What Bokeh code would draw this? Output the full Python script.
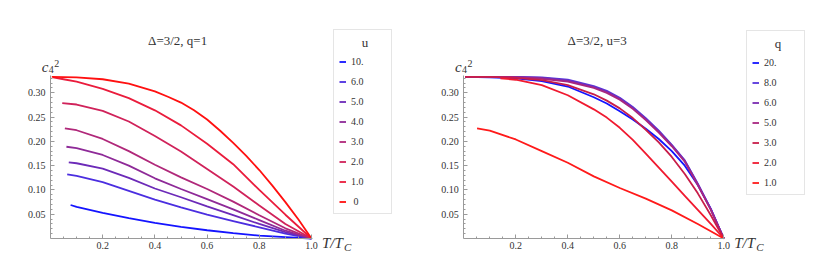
from bokeh.plotting import figure
from bokeh.layouts import row
from bokeh.models import (Range1d, FixedTicker, Label, Legend, LegendItem, LinearAxis)
from bokeh.embed import file_html
from bokeh.resources import INLINE

# ---------------- data: left panel (Delta=3/2, q=1), series by u ----------------
u_labels = ["10.", "6.0", "5.0", "4.0", "3.0", "2.0", "1.0", "\u20080"]
u_colors = ["#1414ff", "#4b2ee0", "#6c2ab8", "#8e2a98", "#b0287a", "#d0225a", "#ea1c3c", "#ff1010"]

u10_T = [0.077, 0.1, 0.2, 0.3, 0.4, 0.5, 0.6, 0.7, 0.8, 0.9, 1.0]
u10_c = [0.069, 0.065, 0.053, 0.042, 0.032, 0.024, 0.017, 0.011, 0.006, 0.003, 0.0]
u6_T = [0.064, 0.1, 0.2, 0.3, 0.4, 0.5, 0.6, 0.7, 0.8, 0.9, 1.0]
u6_c = [0.132, 0.129, 0.116, 0.098, 0.080, 0.064, 0.049, 0.036, 0.023, 0.010, 0.0]
u5_T = [0.07, 0.1, 0.2, 0.3, 0.4, 0.5, 0.6, 0.7, 0.8, 0.9, 1.0]
u5_c = [0.157, 0.155, 0.144, 0.125, 0.103, 0.085, 0.066, 0.048, 0.030, 0.013, 0.0]
u4_T = [0.061, 0.1, 0.2, 0.3, 0.4, 0.5, 0.6, 0.7, 0.8, 0.9, 1.0]
u4_c = [0.189, 0.186, 0.172, 0.150, 0.124, 0.102, 0.081, 0.060, 0.038, 0.016, 0.0]
u3_T = [0.055, 0.1, 0.2, 0.3, 0.4, 0.5, 0.6, 0.7, 0.8, 0.9, 1.0]
u3_c = [0.227, 0.223, 0.205, 0.180, 0.152, 0.126, 0.102, 0.076, 0.048, 0.021, 0.0]
u2_T = [0.045, 0.1, 0.2, 0.3, 0.4, 0.5, 0.6, 0.7, 0.8, 0.9, 1.0]
u2_c = [0.279, 0.276, 0.263, 0.241, 0.211, 0.179, 0.143, 0.107, 0.068, 0.030, 0.0]
u1_T = [0.01, 0.05, 0.1, 0.2, 0.3, 0.4, 0.5, 0.6, 0.7, 0.8, 0.9, 1.0]
u1_c = [0.332, 0.328, 0.323, 0.308, 0.289, 0.264, 0.233, 0.195, 0.153, 0.100, 0.049, 0.0]
u0_T = [0.005, 0.1, 0.2, 0.3, 0.4, 0.45, 0.5, 0.55, 0.6, 0.65, 0.7, 0.75, 0.8, 0.85, 0.9, 0.95, 1.0]
u0_c = [0.333, 0.332, 0.328, 0.319, 0.303, 0.292, 0.280, 0.264, 0.245, 0.222, 0.197, 0.170, 0.141, 0.109, 0.075, 0.039, 0.0]

left_T = [u10_T, u6_T, u5_T, u4_T, u3_T, u2_T, u1_T, u0_T]
left_c = [u10_c, u6_c, u5_c, u4_c, u3_c, u2_c, u1_c, u0_c]

# ---------------- data: right panel (Delta=3/2, u=3), series by q ----------------
q_labels = ["20.", "8.0", "6.0", "5.0", "3.0", "2.0", "1.0"]
q_colors = ["#1414ff", "#5634dc", "#7a2cb0", "#a82680", "#c81e4a", "#f01a30", "#ff1a1a"]

qT_full = [0.005, 0.1, 0.2, 0.3, 0.4, 0.5, 0.55, 0.6, 0.65, 0.7, 0.75, 0.8, 0.85, 0.9, 0.95, 1.0]
q20_T = qT_full
q20_c = [0.333, 0.332, 0.330, 0.324, 0.313, 0.291, 0.278, 0.262, 0.245, 0.226, 0.205, 0.180, 0.150, 0.110, 0.061, 0.0]
q8_T = qT_full
q8_c = [0.333, 0.333, 0.333, 0.332, 0.327, 0.314, 0.304, 0.290, 0.271, 0.248, 0.222, 0.193, 0.161, 0.113, 0.061, 0.0]
q6_T = qT_full
q6_c = [0.333, 0.333, 0.333, 0.331, 0.325, 0.312, 0.302, 0.288, 0.269, 0.246, 0.220, 0.192, 0.160, 0.112, 0.060, 0.0]
q5_T = qT_full
q5_c = [0.333, 0.333, 0.332, 0.329, 0.323, 0.310, 0.300, 0.286, 0.267, 0.244, 0.218, 0.190, 0.158, 0.110, 0.059, 0.0]
q3_T = qT_full
q3_c = [0.333, 0.333, 0.331, 0.326, 0.316, 0.297, 0.284, 0.268, 0.248, 0.224, 0.198, 0.168, 0.133, 0.093, 0.048, 0.0]
q2_T = [0.141, 0.2, 0.3, 0.4, 0.5, 0.55, 0.6, 0.65, 0.7, 0.75, 0.8, 0.85, 0.9, 0.95, 1.0]
q2_c = [0.330, 0.327, 0.316, 0.295, 0.266, 0.249, 0.228, 0.203, 0.175, 0.146, 0.117, 0.088, 0.059, 0.030, 0.0]
q1_T = [0.051, 0.1, 0.2, 0.3, 0.4, 0.5, 0.6, 0.7, 0.8, 0.9, 1.0]
q1_c = [0.227, 0.222, 0.204, 0.180, 0.156, 0.128, 0.104, 0.082, 0.058, 0.030, 0.0]

right_T = [q20_T, q8_T, q6_T, q5_T, q3_T, q2_T, q1_T]
right_c = [q20_c, q8_c, q6_c, q5_c, q3_c, q2_c, q1_c]

# ticks
x_ticks = [0.2, 0.4, 0.6, 0.8, 1.0]
x_tick_labels = ["0.2", "0.4", "0.6", "0.8", "1.0"]
x_minor = [0.05, 0.1, 0.15, 0.25, 0.3, 0.35, 0.45, 0.5, 0.55, 0.65, 0.7, 0.75, 0.85, 0.9, 0.95]
y_ticks = [0.05, 0.10, 0.15, 0.20, 0.25, 0.30]
y_tick_labels = ["0.05", "0.10", "0.15", "0.20", "0.25", "0.30"]
y_minor = [i / 100 for i in range(1, 34) if i % 5 != 0]

SERIF = "'Liberation Serif'"
AXIS_COL = "#9a9a9a"
TEXT_COL = "#333333"
FIG_H = 268
ORIGIN_Y = 238.0     # px from figure top where c = 0
Y_SCALE = 485.5      # px per unit of c
NB = "\u00a0"


def make_panel(width, origin_x, x_scale, Ts, cs, colors, labels,
               title, legend_title, title_x, legend_loc):
    xr = Range1d(-origin_x / x_scale, (width - origin_x) / x_scale)
    yr = Range1d(-(FIG_H - ORIGIN_Y) / Y_SCALE, ORIGIN_Y / Y_SCALE)
    p = figure(width=width, height=FIG_H, output_backend="svg", toolbar_location=None,
               x_range=xr, y_range=yr, min_border=0,
               x_axis_type=None, y_axis_type=None)
    p.outline_line_color = None
    p.xgrid.visible = False
    p.ygrid.visible = False

    xa = LinearAxis(ticker=FixedTicker(ticks=x_ticks, minor_ticks=x_minor),
                    fixed_location=0, bounds=(0, 1.004))
    xa.major_label_overrides = {t: s for t, s in zip(x_ticks, x_tick_labels)}
    ya = LinearAxis(ticker=FixedTicker(ticks=y_ticks, minor_ticks=y_minor),
                    fixed_location=0, bounds=(0, 0.336))
    ya.major_label_overrides = {t: s for t, s in zip(y_ticks, y_tick_labels)}
    for ax in (xa, ya):
        ax.axis_line_color = AXIS_COL
        ax.major_tick_line_color = AXIS_COL
        ax.minor_tick_line_color = AXIS_COL
        ax.major_tick_in = 4
        ax.major_tick_out = 0
        ax.minor_tick_in = 2
        ax.minor_tick_out = 0
        ax.major_label_text_font = SERIF
        ax.major_label_text_font_size = "10px"
        ax.major_label_text_color = TEXT_COL
    xa.major_label_standoff = 3
    ya.major_label_standoff = 5
    p.add_layout(xa, "below")
    p.add_layout(ya, "left")

    items = []
    for T, c, col, lab in zip(Ts, cs, colors, labels):
        r = p.line(T, c, line_color=col, line_width=1.8)
        items.append(LegendItem(label=lab, renderers=[r]))

    leg = Legend(items=items, location=legend_loc, title=NB * 7 + legend_title,
                 title_text_font=SERIF, title_text_font_size="13px",
                 title_text_font_style="normal", title_text_color=TEXT_COL,
                 title_standoff=4,
                 label_text_font=SERIF, label_text_font_size="10px",
                 label_text_color=TEXT_COL, label_height=13, label_width=35,
                 label_standoff=5, glyph_width=7, glyph_height=13, spacing=7,
                 padding=5, margin=0, border_line_color="#cccccc",
                 background_fill_color="white", background_fill_alpha=1.0)
    p.add_layout(leg, "center")

    # plot title
    p.add_layout(Label(x=title_x, y=0.4078, text=title, text_align="center",
                       text_baseline="middle", text_font=SERIF,
                       text_font_size="13px", text_color=TEXT_COL))
    # y label c_4^2
    p.add_layout(Label(x=-0.034, y=0.353, text="c", text_font=SERIF,
                       text_font_style="italic", text_font_size="15px",
                       text_baseline="alphabetic", text_color=TEXT_COL))
    p.add_layout(Label(x=-0.034, y=0.353, x_offset=7, y_offset=-2, text="4",
                       text_font=SERIF, text_font_size="10px",
                       text_baseline="alphabetic", text_color=TEXT_COL))
    p.add_layout(Label(x=-0.034, y=0.353, x_offset=12.5, y_offset=4, text="2",
                       text_font=SERIF, text_font_size="10px",
                       text_baseline="alphabetic", text_color=TEXT_COL))
    # x label T/T_C
    p.add_layout(Label(x=1.04, y=0.0, y_offset=-4, text="T/T", text_font=SERIF,
                       text_font_style="italic", text_font_size="15px",
                       text_baseline="alphabetic", text_color=TEXT_COL))
    p.add_layout(Label(x=1.04, y=0.0, x_offset=22, y_offset=-8, text="C",
                       text_font=SERIF, text_font_style="italic",
                       text_font_size="11px", text_baseline="alphabetic",
                       text_color=TEXT_COL))
    return p


# left figure: page x 0..418, T=0 at x 50 ; right figure: page x 418..831, T=0 at x 463.3
p1 = make_panel(418, 50.0, 261.0, left_T, left_c, u_colors, u_labels,
                "\u0394=3/2, q=1", "u", 0.487, (333, FIG_H - 214))
p2 = make_panel(413, 45.3, 260.0, right_T, right_c, q_colors, q_labels,
                "\u0394=3/2, u=3", "q", 0.513, (328, FIG_H - 195))

layout = row(p1, p2)
open("out.html", "w").write(file_html(layout, INLINE))
